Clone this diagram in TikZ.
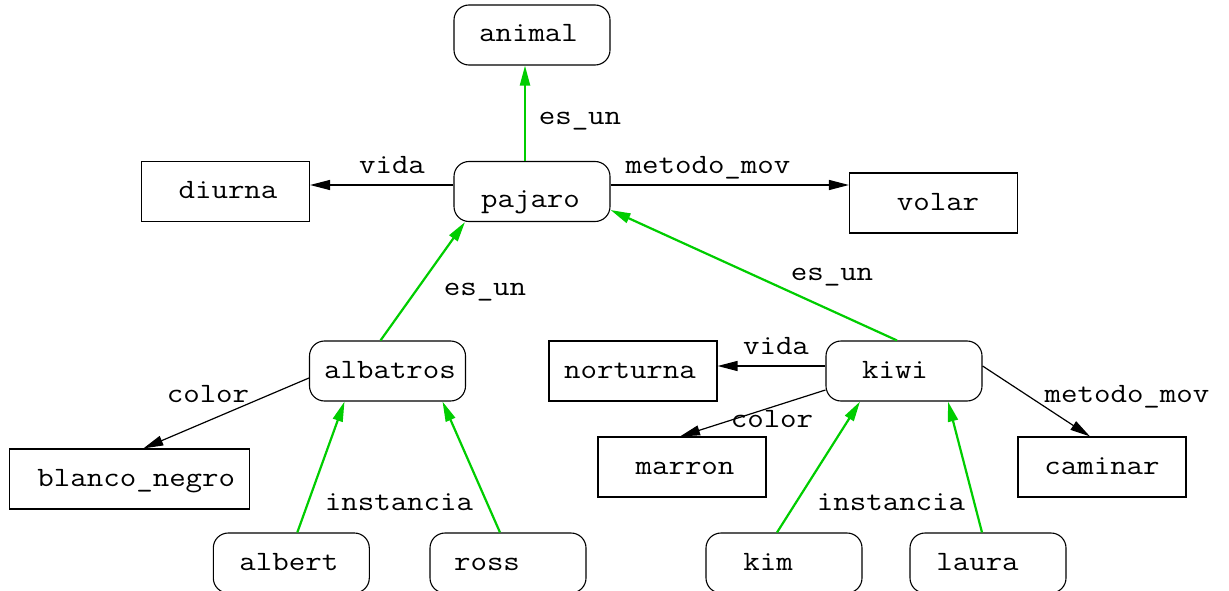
\documentclass[tikz,border=0pt]{standalone}
\usepackage{fontspec}
\newfontfamily\courfont{Latin Modern Mono}[FakeStretch=1.143]
\usetikzlibrary{arrows.meta}
\definecolor{edgegreen}{RGB}{0,205,0}
\newcommand\tx[2]{\hspace*{#1}#2}
\begin{document}
\begin{tikzpicture}[x=1pt,y=-1pt,
  every node/.style={font=\courfont\fontsize{28}{34}\selectfont, text height=20pt, text depth=6pt},
  rbox/.style={draw, line width=1.1pt, rounded corners=15pt, minimum width=156pt, minimum height=60pt, inner sep=0pt},
  sbox/.style={draw, line width=1.1pt, minimum width=168pt, minimum height=60pt, inner sep=0pt},
  lbl/.style={inner sep=0pt},
  rel/.style={draw=black, line width=1.2pt, -{Triangle[length=20pt,width=10pt]}},
  isa/.style={draw=edgegreen, line width=2.2pt, -{Triangle[length=20pt,width=10pt]}}
]
\useasboundingbox (0,0) rectangle (1229,591);

% nodes
\node[rbox] (animal) at (532,35) {\tx{-7pt}{animal}};
\node[rbox] (pajaro) at (532,191.5) {\raisebox{-9.2pt}{\tx{-3pt}{pajaro}}};
\node[sbox] (diurna) at (225.5,191.3) {\tx{5pt}{diurna}};
\node[sbox] (volar) at (933.5,203) {\tx{9pt}{volar}};
\node[rbox] (albatros) at (387.5,371) {\tx{5pt}{albatros}};
\node[rbox] (kiwi) at (904,371) {\tx{-18pt}{kiwi}};
\node[sbox] (norturna) at (633,371) {\tx{-6pt}{norturna}};
\node[sbox, minimum width=240pt] (blanco) at (129.3,479) {\tx{14pt}{blanco\_negro}};
\node[sbox] (marron) at (682,467) {\tx{6pt}{marron}};
\node[sbox] (caminar) at (1102,467) {caminar};
\node[rbox] (albert) at (291.3,563) {\tx{-5pt}{albert}};
\node[rbox] (ross) at (508,563) {\tx{-42pt}{ross}};
\node[rbox] (kim) at (784,563) {\tx{-32pt}{kim}};
\node[rbox] (laura) at (988,563) {\tx{-21pt}{laura}};

% edges
\draw[isa] ([xshift=-7pt]pajaro.north) -- ([xshift=-7pt]animal.south);
\draw[rel] ([yshift=6.5pt]pajaro.west) -- ([yshift=6.5pt]pajaro.west -| diurna.east);
\draw[rel] ([yshift=6.5pt]pajaro.east) -- ([yshift=6.5pt]pajaro.east -| volar.west);
\draw[isa] ([xshift=-7pt]albatros.north) -- ([xshift=-67pt]pajaro.south);
\draw[isa] ([xshift=-7pt]kiwi.north) -- ([yshift=-18.5pt]pajaro.east);
\draw[rel] ([yshift=-7pt]albatros.west) -- ([xshift=14pt]blanco.north);
\draw[isa] ([xshift=6pt]albert.north) -- ([xshift=-43pt]albatros.south);
\draw[isa] ([xshift=-8pt]ross.north) -- ([xshift=55pt]albatros.south);
\draw[rel] ([yshift=5pt]kiwi.west) -- ([yshift=5pt]kiwi.west -| norturna.east);
\draw[rel] ([yshift=-19pt]kiwi.west) -- ([xshift=-2pt]marron.north);
\draw[rel] ([yshift=5pt]kiwi.east) -- ([xshift=-12pt]caminar.north);
\draw[isa] ([xshift=-7pt]kim.north) -- ([xshift=-44pt]kiwi.south);
\draw[isa] ([xshift=-6pt]laura.north) -- ([xshift=44pt]kiwi.south);

% labels
\node[lbl] (l1) at (580,118) {es\_un};
\node[lbl] (l2) at (392,166) {vida};
\node[lbl] (l3) at (708,166) {metodo\_mov};
\node[lbl] (l4) at (485,288) {es\_un};
\node[lbl] (l5) at (832,273) {es\_un};
\node[lbl] (l6) at (208,395) {color};
\node[lbl] (l7) at (399,503) {instancia};
\node[lbl] (l8) at (776,347) {vida};
\node[lbl] (l9) at (772,420) {color};
\node[lbl] (l10) at (1127,395) {metodo\_mov};
\node[lbl] (l11) at (891,503) {instancia};
\end{tikzpicture}
\end{document}
